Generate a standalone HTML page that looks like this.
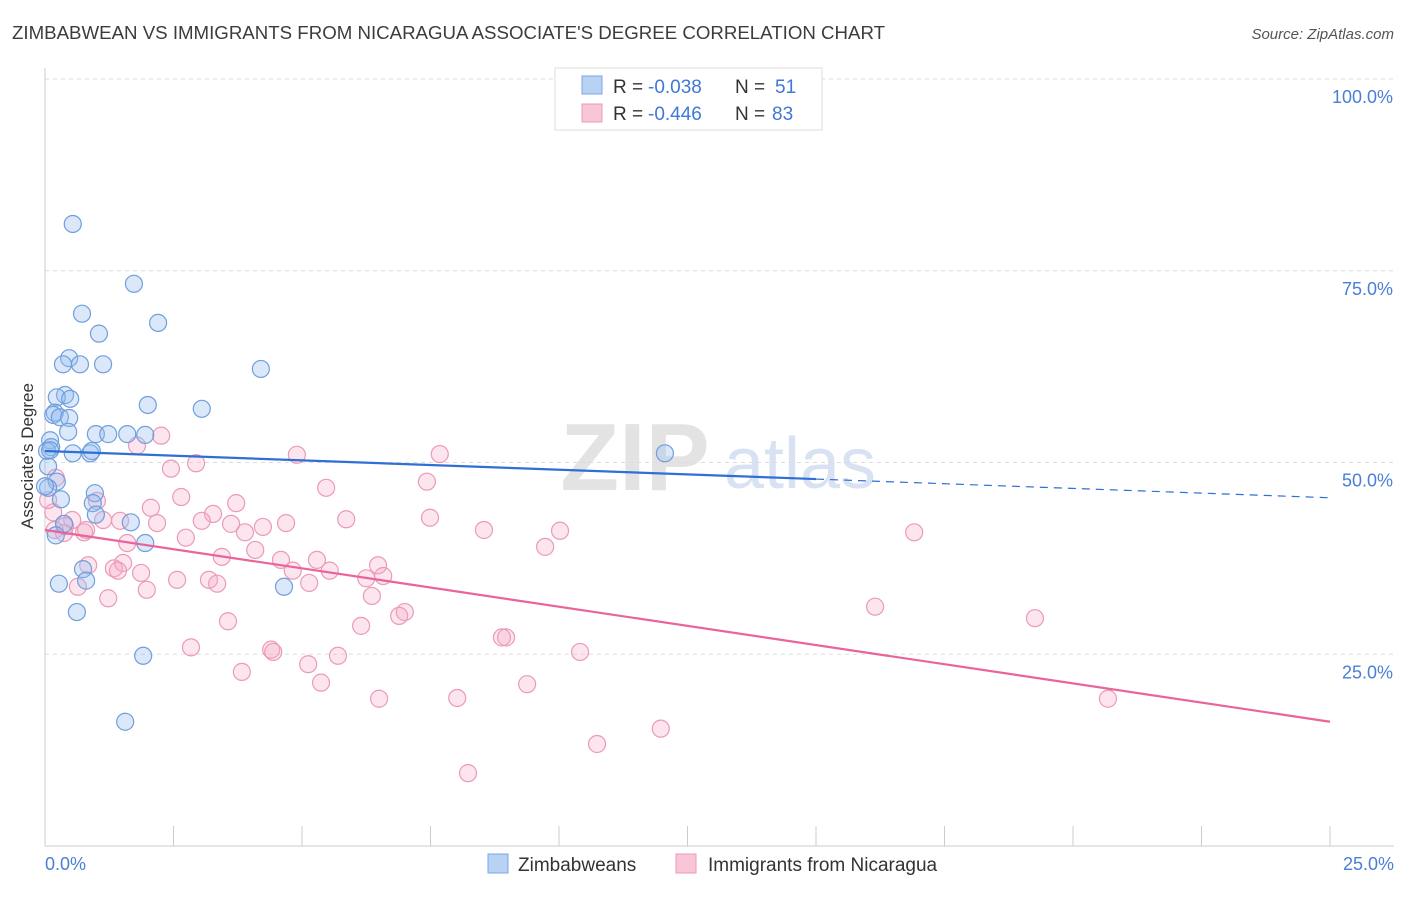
<!DOCTYPE html>
<html><head><meta charset="utf-8"><style>
body{margin:0;background:#fff;font-family:"Liberation Sans",sans-serif}
svg text{font-family:"Liberation Sans",sans-serif}
</style></head><body>
<svg id="chart" width="1406" height="892" xmlns="http://www.w3.org/2000/svg">
<text x="12" y="39" font-size="18" fill="#3c3c3c" textLength="873" lengthAdjust="spacingAndGlyphs">ZIMBABWEAN VS IMMIGRANTS FROM NICARAGUA ASSOCIATE'S DEGREE CORRELATION CHART</text>
<text x="1394" y="39" font-size="15" fill="#555" text-anchor="end" font-style="italic">Source: ZipAtlas.com</text>
<g>
<text x="635" y="490" font-size="96" fill="#ddd" text-anchor="middle" font-family="Liberation Serif" font-weight="bold" opacity="0.8">ZIP</text>
<text x="800" y="488" font-size="72" fill="#cfdcef" text-anchor="middle" opacity="0.8">atlas</text>
</g>
<g id="grid"></g><g id="axes"></g><g id="points"></g><g id="lines"></g>
<text transform="translate(33,456) rotate(-90)" font-size="17" fill="#333" text-anchor="middle">Associate's Degree</text>
<g>
<rect x="555" y="68" width="267" height="62" fill="#fff" stroke="#ddd"/>
<rect x="582" y="76" width="20" height="18" fill="#b8d2f4" stroke="#7aa6e0"/>
<rect x="582" y="104" width="20" height="18" fill="#f8c6d8" stroke="#eb9ab8"/>
<text x="613" y="93" font-size="19" fill="#333">R =</text>
<text x="648" y="93" font-size="19" fill="#3f78d6">-0.038</text>
<text x="735" y="93" font-size="19" fill="#333">N =</text>
<text x="775" y="93" font-size="19" fill="#3f78d6">51</text>
<text x="613" y="120" font-size="19" fill="#333">R =</text>
<text x="648" y="120" font-size="19" fill="#3f78d6">-0.446</text>
<text x="735" y="120" font-size="19" fill="#333">N =</text>
<text x="772" y="120" font-size="19" fill="#3f78d6">83</text>
</g>
<g>
<rect x="488" y="854" width="20" height="19" fill="#b8d2f4" stroke="#7aa6e0"/>
<text x="518" y="871" font-size="19" fill="#333">Zimbabweans</text>
<rect x="676" y="854" width="20" height="19" fill="#f8c6d8" stroke="#eb9ab8"/>
<text x="708" y="871" font-size="19" fill="#333">Immigrants from Nicaragua</text>
</g>
</svg>
<script>
const yTicks=[25,50,75,100];
const yTickLabels=["25.0%","50.0%","75.0%","100.0%"];
const xTicks=[0,2.5,5,7.5,10,12.5,15,17.5,20,22.5,25];
const blueX=[.54,1.73,.72,2.20,1.05,.47,.35,.68,1.13,4.20,.39,.23,.49,2.00,3.05,.19,.16,.29,.47,.45,.99,1.23,1.60,1.95,.10,.12,.04,.54,.88,.91,12.06,.06,.23,.06,.31,.97,.93,.99,1.67,.37,.21,1.95,.74,.80,.27,.62,4.65,1.91,1.56,0,.10];
const blueY=[81.1,73.3,69.4,68.2,66.8,63.6,62.8,62.8,62.8,62.2,58.8,58.5,58.3,57.5,57.0,56.5,56.2,55.9,55.8,54.0,53.7,53.7,53.7,53.6,52.9,52.0,51.5,51.2,51.2,51.5,51.2,49.5,47.5,46.7,45.2,46.0,44.7,43.2,42.2,42.0,40.5,39.5,36.1,34.6,34.2,30.5,33.8,24.8,16.2,46.9,51.6];
const pinkX=[2.26,1.79,2.94,2.45,4.90,7.68,5.47,7.43,2.65,3.72,2.06,1.01,3.27,5.86,7.49,4.69,4.24,3.05,3.62,2.18,1.46,1.13,.53,.39,.19,.76,.37,8.54,10.02,9.73,16.91,3.89,2.74,1.60,3.44,4.09,4.59,5.29,6.48,.84,1.34,1.52,1.87,1.42,4.82,5.54,6.25,6.58,2.57,3.19,3.35,5.14,1.98,.64,1.23,6.36,7.00,6.89,16.15,19.26,3.56,6.15,8.97,8.89,2.84,4.40,4.44,10.41,5.70,5.12,3.83,5.37,9.38,6.50,8.02,20.68,11.98,10.74,8.23,.16,.06,.21,.80];
const pinkY=[53.5,52.2,49.9,49.2,51.0,51.1,46.7,47.5,45.5,44.7,44.1,45.0,43.3,42.6,42.8,42.1,41.6,42.4,42.0,42.1,42.4,42.5,42.5,41.7,41.2,40.9,40.8,41.2,41.1,39.0,40.9,40.9,40.2,39.5,37.7,38.6,37.3,37.3,36.6,36.6,36.2,36.9,35.6,35.9,35.9,35.9,34.9,35.2,34.7,34.7,34.2,34.3,33.4,33.8,32.3,32.6,30.5,30.0,31.2,29.7,29.3,28.7,27.2,27.2,25.9,25.6,25.3,25.3,24.8,23.7,22.7,21.3,21.1,19.2,19.3,19.2,15.3,13.3,9.5,43.5,45.1,48.0,41.2];
const blueTrend=[51.5,45.4];
const pinkTrend=[41.2,16.2];
const NS="http://www.w3.org/2000/svg";
const X=v=>45+v*51.4, Y=v=>846-v*7.67;
function mk(t,a,p){const e=document.createElementNS(NS,t);for(const k in a)e.setAttribute(k,a[k]);document.getElementById(p).appendChild(e);return e;}
yTicks.forEach((t,i)=>{
 const g=mk('line',{x1:45,x2:1394,y1:Y(t),y2:Y(t),stroke:'#ddd','stroke-dasharray':'4,4'},'grid');
 
 
 const l=mk('text',{x:1393,y:Y(t)+24,'font-size':18,fill:'#4a7fd4','text-anchor':'end'},'axes');
 l.textContent=yTickLabels[i];
 
 
});
const tl=mk('line',{x1:45,x2:1394,y1:79,y2:79,stroke:'#ddd','stroke-dasharray':'4,4'},'grid');


const ya=mk('line',{x1:45,x2:45,y1:68,y2:846,stroke:'#ccc'},'axes');


const xa=mk('line',{x1:45,x2:1394,y1:846,y2:846,stroke:'#ccc'},'axes');


xTicks.forEach(t=>{
 const e=mk('line',{x1:X(t),x2:X(t),y1:826,y2:846,stroke:'#ccc'},'axes');
 
 
});
const x0=mk('text',{x:45,y:870,'font-size':18,fill:'#4a7fd4'},'axes');x0.textContent='0.0%';


const x1=mk('text',{x:1394,y:870,'font-size':18,fill:'#4a7fd4','text-anchor':'end'},'axes');x1.textContent='25.0%';


pinkX.forEach((v,i)=>{
 const c=mk('circle',{cx:X(v),cy:Y(pinkY[i]),r:8.5,fill:'rgba(245,170,200,0.3)',stroke:'#eb9ab8','stroke-width':1.2},'points');
 
 
});
blueX.forEach((v,i)=>{
 const c=mk('circle',{cx:X(v),cy:Y(blueY[i]),r:8.5,fill:'rgba(150,190,240,0.35)',stroke:'#6f9fdc','stroke-width':1.2},'points');
 
 
});
const bAt=x=>blueTrend[0]+(blueTrend[1]-blueTrend[0])*x/25;
const b1=mk('line',{x1:X(0),y1:Y(bAt(0)),x2:X(15),y2:Y(bAt(15)),stroke:'#2f6fd6','stroke-width':2.2},'lines');


const b2=mk('line',{x1:X(15),y1:Y(bAt(15)),x2:X(25),y2:Y(bAt(25)),stroke:'#2f6fd6','stroke-width':1.2,'stroke-dasharray':'8,6'},'lines');


const p1=mk('line',{x1:X(0),y1:Y(pinkTrend[0]),x2:X(25),y2:Y(pinkTrend[1]),stroke:'#e8649a','stroke-width':2.2},'lines');


</script>
</body></html>
